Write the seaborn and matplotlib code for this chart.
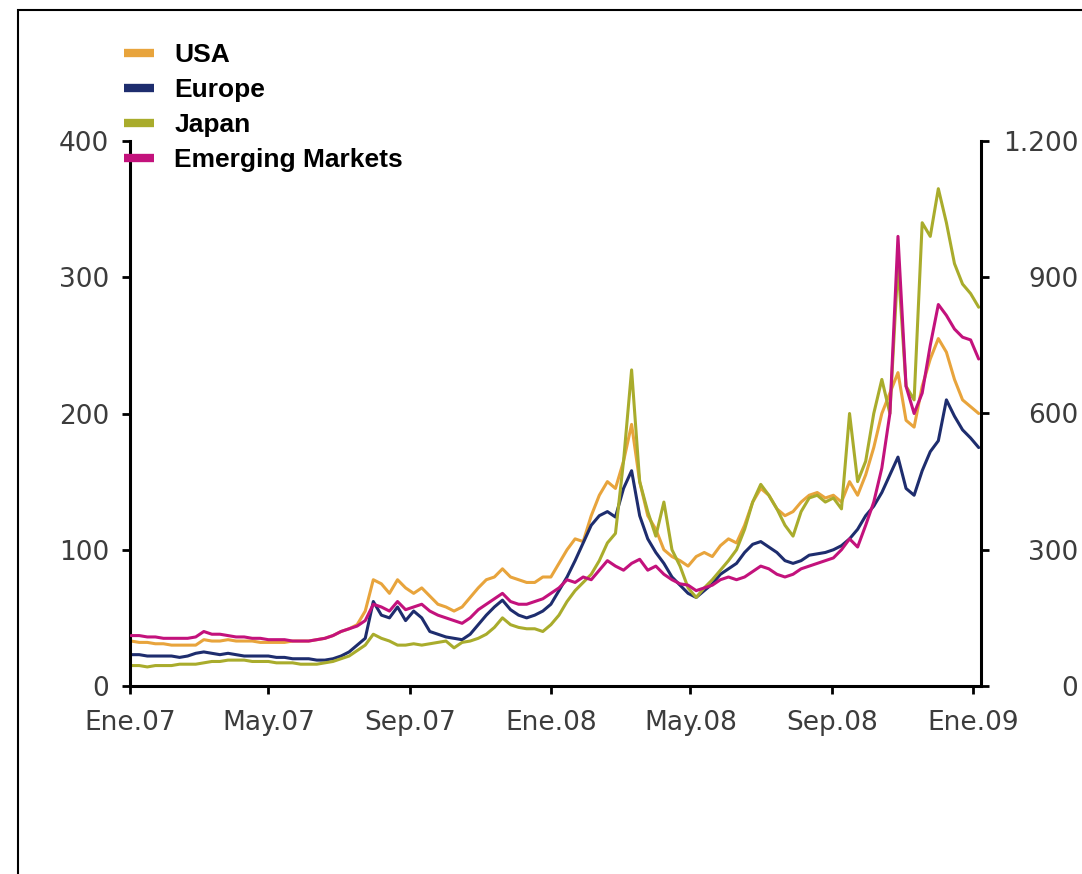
import pandas as pd
import seaborn as sns
import matplotlib.pyplot as plt
from matplotlib.lines import Line2D
from matplotlib.patches import Rectangle

# weekly observations, Jan 2007 - Jan 2009
dates = pd.date_range('2007-01-02', periods=106, freq='7D')

usa = [33, 32, 32, 31, 31, 30, 30, 30, 30, 34, 33, 33, 34,
       33, 33, 33, 32, 32, 32, 32, 33, 33, 33, 34, 35,
       37, 40, 42, 45, 55, 78, 75, 68, 78, 72, 68, 72, 66, 60, 58,
       55, 58, 65, 72, 78, 80, 86, 80, 78, 76, 76, 80, 80, 90, 100,
       108, 106, 125, 140, 150, 145, 165, 192, 150, 125, 115, 100, 95, 92, 88,
       95, 98, 95, 103, 108, 105, 118, 135, 145, 140, 130, 125, 128, 135, 140,
       142, 138, 140, 135, 150, 140, 155, 175, 200, 215, 230, 195, 190, 220, 240,
       255, 245, 225, 210, 205, 200]

europe = [23, 23, 22, 22, 22, 22, 21, 22, 24, 25, 24, 23, 24,
          23, 22, 22, 22, 22, 21, 21, 20, 20, 20, 19, 19,
          20, 22, 25, 30, 35, 62, 52, 50, 58, 48, 55, 50, 40, 38, 36,
          35, 34, 38, 45, 52, 58, 63, 56, 52, 50, 52, 55, 60, 70, 80,
          92, 105, 118, 125, 128, 124, 145, 158, 125, 108, 98, 90, 80, 74, 68,
          65, 70, 75, 82, 86, 90, 98, 104, 106, 102, 98, 92, 90, 92, 96,
          97, 98, 100, 103, 108, 115, 125, 132, 142, 155, 168, 145, 140, 158, 172,
          180, 210, 198, 188, 182, 175]

japan = [15, 15, 14, 15, 15, 15, 16, 16, 16, 17, 18, 18, 19,
         19, 19, 18, 18, 18, 17, 17, 17, 16, 16, 16, 17,
         18, 20, 22, 26, 30, 38, 35, 33, 30, 30, 31, 30, 31, 32, 33,
         28, 32, 33, 35, 38, 43, 50, 45, 43, 42, 42, 40, 45, 52, 62,
         70, 76, 82, 92, 105, 112, 165, 232, 150, 128, 110, 135, 100, 88, 72,
         65, 72, 78, 85, 92, 100, 115, 135, 148, 140, 130, 118, 110, 128, 138,
         140, 135, 138, 130, 200, 150, 165, 200, 225, 200, 310, 220, 210, 340, 330,
         365, 340, 310, 295, 288, 278]

# emerging markets on the right-hand scale
emerging = [111, 111, 108, 108, 105, 105, 105, 105, 108, 120, 114, 114, 111,
            108, 108, 105, 105, 102, 102, 102, 99, 99, 99, 102, 105,
            111, 120, 126, 132, 144, 180, 174, 165, 186, 168, 174, 180, 165, 156, 150,
            144, 138, 150, 168, 180, 192, 204, 186, 180, 180, 186, 192, 204, 216, 234,
            228, 240, 234, 255, 276, 264, 255, 270, 279, 255, 264, 246, 234, 225, 222,
            210, 216, 222, 234, 240, 234, 240, 252, 264, 258, 246, 240, 246, 258, 264,
            270, 276, 282, 300, 324, 306, 354, 405, 480, 600, 990, 660, 600, 645, 750,
            840, 816, 786, 768, 762, 720]

tick_dates = pd.to_datetime(['2007-01-01', '2007-05-01', '2007-09-01', '2008-01-01',
                             '2008-05-01', '2008-09-01', '2009-01-01'])
tick_labels = ['Ene.07', 'May.07', 'Sep.07', 'Ene.08', 'May.08', 'Sep.08', 'Ene.09']
left_ticks = [0, 100, 200, 300, 400]
right_ticks = [0, 300, 600, 900, 1200]
right_labels = ['0', '300', '600', '900', '1.200']

names = ['USA', 'Europe', 'Japan', 'Emerging Markets']
colors = ['#E8A43C', '#1E2D6E', '#A9AC2C', '#C3127C']

df = pd.DataFrame({'date': dates, 'USA': usa, 'Europe': europe, 'Japan': japan})
em = pd.DataFrame({'date': dates, 'Emerging Markets': emerging})

sns.set_style('white')
plt.rcParams['font.family'] = ['DejaVu Sans']

W, H = 1082, 874
fig = plt.figure(figsize=(W / 100, H / 100), dpi=100)
ax = fig.add_axes([130 / W, (H - 686) / H, (981 - 130) / W, (686 - 141) / H])
ax2 = ax.twinx()

for name, col in zip(names[:3], colors[:3]):
    sns.lineplot(data=df, x='date', y=name, color=col, lw=2.2, ax=ax)
sns.lineplot(data=em, x='date', y='Emerging Markets', color=colors[3], lw=2.2, ax=ax2)

ax.set_xlim(pd.Timestamp('2007-01-01'), pd.Timestamp('2009-01-08'))
ax.set_ylim(0, 400)
ax2.set_ylim(0, 1200)
ax.set_xlabel('')
ax.set_ylabel('')
ax2.set_ylabel('')

ax.set_xticks(tick_dates)
ax.set_xticklabels(tick_labels)
ax.set_yticks(left_ticks)
ax.set_yticklabels([str(v) for v in left_ticks])
ax2.set_yticks(right_ticks)
ax2.set_yticklabels(right_labels)

lab_col = '#3c3c3c'
ax.tick_params(axis='x', bottom=True, length=6, width=2, color='black', pad=11,
               labelsize=19, labelcolor=lab_col)
ax.tick_params(axis='y', left=True, length=6, width=2, color='black', pad=9,
               labelsize=19, labelcolor=lab_col)
ax2.tick_params(axis='y', right=True, length=6, width=2, color='black', pad=64,
                labelsize=19, labelcolor=lab_col)
for t in ax2.get_yticklabels():
    t.set_horizontalalignment('right')

for a in (ax, ax2):
    for s in a.spines.values():
        s.set_linewidth(2.2)
        s.set_color('black')
    a.spines['top'].set_visible(False)
ax.spines['right'].set_visible(False)
ax2.spines['left'].set_visible(False)
ax2.spines['bottom'].set_visible(False)

# legend
handles = [Line2D([0], [0], color=c, lw=6, solid_capstyle='butt') for c in colors]
fig.legend(handles, names, loc='upper left', bbox_to_anchor=(124 / W, (H - 43) / H),
           frameon=False, borderpad=0, borderaxespad=0, handlelength=1.15,
           handletextpad=0.75, labelspacing=0.42, labelcolor='black',
           prop={'family': 'Liberation Sans', 'weight': 'bold', 'size': 19})

# outer frame
fig.patches.append(Rectangle((18 / W, -0.1), 2, (H - 10) / H + 0.1, transform=fig.transFigure,
                             fill=False, lw=1.5, edgecolor='black'))

fig.savefig('out.png', dpi=100)
